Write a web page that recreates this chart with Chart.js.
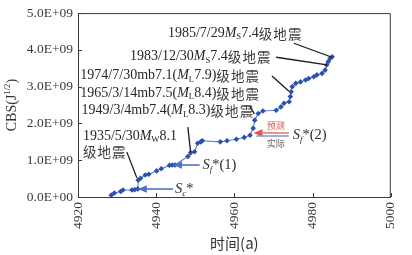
<!DOCTYPE html>
<html>
<head>
<meta charset="utf-8">
<script src="https://cdn.jsdelivr.net/npm/chart.js@4.4.1/dist/chart.umd.min.js"></script>
<style>
  html, body { margin: 0; padding: 0; background: #fff; }
</style>
</head>
<body>
<canvas id="chart" width="412" height="255"></canvas>
<script>
// time axis (a) and CBS values in units of 1E+09
const years = [4928.5, 4929.3, 4930.9, 4931.5, 4933.8, 4934.5, 4935.3, 4935.4, 4936.0, 4937.2,
  4938.1, 4940.1, 4941.3, 4943.4, 4944.1, 4944.8, 4948.1, 4948.8, 4949.8, 4950.6,
  4951.4, 4951.8, 4956.4, 4958.1, 4960.5, 4962.5, 4964.0, 4964.8, 4965.2, 4966.1,
  4967.3, 4970.7, 4971.9, 4972.7, 4974.0, 4974.3, 4974.5, 4974.8, 4975.7, 4976.9,
  4978.2, 4979.0, 4980.3, 4981.1, 4982.4, 4983.2, 4983.6, 4984.0, 4984.5, 4985.0];
const cbs = [0.05, 0.11, 0.15, 0.19, 0.19, 0.20, 0.22, 0.46, 0.51, 0.60,
  0.62, 0.71, 0.77, 0.86, 0.87, 0.87, 1.10, 1.20, 1.23, 1.46,
  1.50, 1.53, 1.50, 1.53, 1.57, 1.62, 1.68, 1.87, 2.09, 2.27,
  2.34, 2.36, 2.45, 2.55, 2.59, 2.73, 2.86, 3.00, 3.09, 3.13,
  3.18, 3.22, 3.27, 3.32, 3.36, 3.45, 3.59, 3.68, 3.77, 3.81];
const xTicks = [4920, 4940, 4960, 4980, 5000];
const yTicks = [0, 1, 2, 3, 4, 5];

// earthquake labels: text start, leader line from -> to (data units)
const quakes = [
  { parts: [['1985/7/29'], ['M', 'i'], ['S', 'sub'], ['7.4级地震']], at: [4943.0, 4.46], from: [4975.2, 4.18], to: [4984.95, 3.80] },
  { parts: [['1983/12/30'], ['M', 'i'], ['S', 'sub'], ['7.4级地震']], at: [4933.3, 3.83], from: [4970.7, 3.80], to: [4983.7, 3.59] },
  { parts: [['1974/7/30mb7.1('], ['M', 'i'], ['L', 'sub'], ['7.9)级地震']], at: [4920.6, 3.31], from: [4969.6, 3.29], to: [4973.9, 2.88] },
  { parts: [['1965/3/14mb7.5('], ['M', 'i'], ['L', 'sub'], ['8.4)级地震']], at: [4920.6, 2.83], from: [4963.9, 2.47], to: [4965.1, 2.26] },
  { parts: [['1949/3/4mb7.4('], ['M', 'i'], ['L', 'sub'], ['8.3)级地震']], at: [4920.9, 2.36], from: [4948.1, 1.90], to: [4948.8, 1.22] },
  { parts: [['1935/5/30'], ['M', 'i'], ['W', 'sub'], ['8.1']], at: [4921.25, 1.66], from: [4932.5, 1.22], to: [4935.05, 0.52] },
  { parts: [['级地震']], at: [4921.25, 1.25] }
];

const SERIF = '"Liberation Serif","DejaVu Serif",serif';
const CJK = '"Noto Sans CJK SC","Noto Sans CJK JP",sans-serif';

function isCJK(ch) { return ch.charCodeAt(0) > 0x2e80; }

// draws mixed latin / CJK / italic / sub / sup text, returns width
function drawRich(ctx, x, y, parts, size, color, measureOnly) {
  let cx = x;
  ctx.textBaseline = 'middle';
  ctx.textAlign = 'left';
  for (const [text, style] of parts) {
    let chunks = [];
    for (const ch of text) {
      const c = isCJK(ch);
      if (chunks.length && chunks[chunks.length - 1].c === c) chunks[chunks.length - 1].t += ch;
      else chunks.push({ t: ch, c });
    }
    for (const ch of chunks) {
      let sz = size, dy = 0, it = style === 'i' || style === 'isub';
      if (style === 'sub' || style === 'isub') { sz = size * 0.62; dy = size * 0.3; }
      if (style === 'sup') { sz = size * 0.62; dy = -size * 0.32; }
      if (ch.c) ctx.font = (sz * 0.965).toFixed(1) + 'px ' + CJK;
      else ctx.font = (it ? 'italic ' : '') + sz.toFixed(1) + 'px ' + SERIF;
      if (!measureOnly) {
        ctx.fillStyle = ch.c ? '#3c3c3c' : color;
        if (ch.c) {
          let gx = cx;
          for (const g of ch.t) {
            ctx.fillText(g, gx, y + dy + 0.5);
            gx += ctx.measureText(g).width + 1.1;
          }
        } else {
          ctx.fillText(ch.t, cx, y + dy);
        }
      }
      cx += ctx.measureText(ch.t).width + (ch.c ? ch.t.length * 1.1 : 0);
    }
  }
  return cx - x;
}

function arrowLeft(ctx, x1, x2, y, color) {
  ctx.strokeStyle = color;
  ctx.fillStyle = color;
  ctx.lineWidth = 1.6;
  ctx.beginPath();
  ctx.moveTo(x1 + 6, y);
  ctx.lineTo(x2, y);
  ctx.stroke();
  ctx.beginPath();
  ctx.moveTo(x1, y);
  ctx.lineTo(x1 + 9, y - 3.8);
  ctx.lineTo(x1 + 9, y + 3.8);
  ctx.closePath();
  ctx.fill();
}

const decor = {
  id: 'decor',
  afterDraw(chart) {
    const { ctx, chartArea: a, scales: { x, y } } = chart;
    ctx.save();
    // frame
    ctx.strokeStyle = '#3a3a3a';
    ctx.lineWidth = 1;
    ctx.beginPath();
    ctx.moveTo(a.left, a.top + 0.5);
    ctx.lineTo(a.right - 0.5, a.top + 0.5);
    ctx.lineTo(a.right - 0.5, a.bottom);
    ctx.stroke();
    // inward ticks
    ctx.beginPath();
    xTicks.forEach(v => {
      const px = Math.round(x.getPixelForValue(v)) + 0.5;
      ctx.moveTo(px, a.bottom);
      ctx.lineTo(px, a.bottom - 4);
    });
    yTicks.forEach(v => {
      const py = Math.round(y.getPixelForValue(v)) + 0.5;
      ctx.moveTo(a.left, py);
      ctx.lineTo(a.left + 4, py);
    });
    ctx.stroke();

    // quake labels
    quakes.forEach(q => {
      drawRich(ctx, x.getPixelForValue(q.at[0]), y.getPixelForValue(q.at[1]), q.parts, 14, '#262626');
      if (q.from) {
        ctx.strokeStyle = '#1a1a1a';
        ctx.lineWidth = 1.3;
        ctx.beginPath();
        ctx.moveTo(x.getPixelForValue(q.from[0]), y.getPixelForValue(q.from[1]));
        ctx.lineTo(x.getPixelForValue(q.to[0]), y.getPixelForValue(q.to[1]));
        ctx.stroke();
      }
    });

    // S arrows
    const blue = '#4f72cc';
    let py = y.getPixelForValue(0.217);
    arrowLeft(ctx, x.getPixelForValue(4935.3), x.getPixelForValue(4944.3), py, blue);
    drawRich(ctx, x.getPixelForValue(4944.8), py, [['S', 'i'], ['c', 'isub'], ['*']], 14.5, '#2a2a2a');

    py = y.getPixelForValue(0.87);
    arrowLeft(ctx, x.getPixelForValue(4944.3), x.getPixelForValue(4951.1), py, blue);
    drawRich(ctx, x.getPixelForValue(4951.85), py, [['S', 'i'], ['f', 'isub'], ['*(1)']], 14.5, '#2a2a2a');

    py = y.getPixelForValue(1.74);
    arrowLeft(ctx, x.getPixelForValue(4964.9), x.getPixelForValue(4973.9), py, '#e5504a');
    ctx.strokeStyle = '#f1a6a0';
    ctx.lineWidth = 1.4;
    ctx.beginPath();
    ctx.moveTo(x.getPixelForValue(4967), py);
    ctx.lineTo(x.getPixelForValue(4973.9), py);
    ctx.stroke();
    const py2 = y.getPixelForValue(1.66);
    ctx.strokeStyle = '#7f96dc';
    ctx.beginPath();
    ctx.moveTo(x.getPixelForValue(4965.6), py2);
    ctx.lineTo(x.getPixelForValue(4973.9), py2);
    ctx.stroke();
    ctx.font = '9px ' + CJK;
    ctx.textAlign = 'center';
    ctx.fillStyle = '#e0524c';
    ctx.fillText('预测', x.getPixelForValue(4970.6), y.getPixelForValue(1.93));
    ctx.fillStyle = '#666';
    ctx.fillText('实际', x.getPixelForValue(4970.6), y.getPixelForValue(1.44));
    drawRich(ctx, x.getPixelForValue(4974.9), y.getPixelForValue(1.68), [['S', 'i'], ['f', 'isub'], ['*(2)']], 14.5, '#2a2a2a');

    // y axis title
    const parts = [['CBS(J'], ['1/2', 'sup'], [')']];
    const w = drawRich(ctx, 0, 0, parts, 14, '#333', true);
    ctx.translate(12, (a.top + a.bottom) / 2);
    ctx.rotate(-Math.PI / 2);
    drawRich(ctx, -w / 2, 0, parts, 14, '#333');
    ctx.restore();
  }
};

new Chart(document.getElementById('chart'), {
  type: 'line',
  data: {
    datasets: [{
      data: years.map((v, i) => ({ x: v, y: cbs[i] })),
      borderColor: '#5b80d6',
      borderWidth: 1.1,
      pointStyle: 'rectRot',
      pointRadius: 2.8,
      pointBackgroundColor: '#2d50b0',
      pointBorderColor: '#2d50b0',
      pointBorderWidth: 0,
      tension: 0
    }]
  },
  options: {
    responsive: false,
    animation: false,
    devicePixelRatio: 1,
    layout: { padding: { top: 13, right: 15, left: 0, bottom: 0 } },
    plugins: { legend: { display: false }, tooltip: { enabled: false } },
    scales: {
      x: {
        type: 'linear', min: 4920, max: 5000,
        afterBuildTicks: s => { s.ticks = xTicks.map(v => ({ value: v })); },
        afterFit: s => { s.height = 58; },
        grid: { drawOnChartArea: false, drawTicks: false },
        border: { color: '#3a3a3a', width: 1 },
        ticks: {
          minRotation: 90, maxRotation: 90, padding: 5,
          color: '#3a3a3a', font: { family: SERIF, size: 13.5 },
          callback: v => String(v)
        },
        title: {
          display: true, text: '时间(a)', color: '#333',
          font: { family: CJK, size: 15 }, padding: { top: 0, bottom: 3 }
        }
      },
      y: {
        min: 0, max: 5,
        afterBuildTicks: s => { s.ticks = yTicks.map(v => ({ value: v })); },
        afterFit: s => { s.width = 78; },
        grid: { drawOnChartArea: false, drawTicks: false },
        border: { color: '#3a3a3a', width: 1 },
        ticks: {
          padding: 5, color: '#3a3a3a', font: { family: SERIF, size: 13.5 },
          callback: v => v.toFixed(1) + 'E+' + (v === 0 ? '00' : '09')
        }
      }
    }
  },
  plugins: [decor]
});
</script>
</body>
</html>
